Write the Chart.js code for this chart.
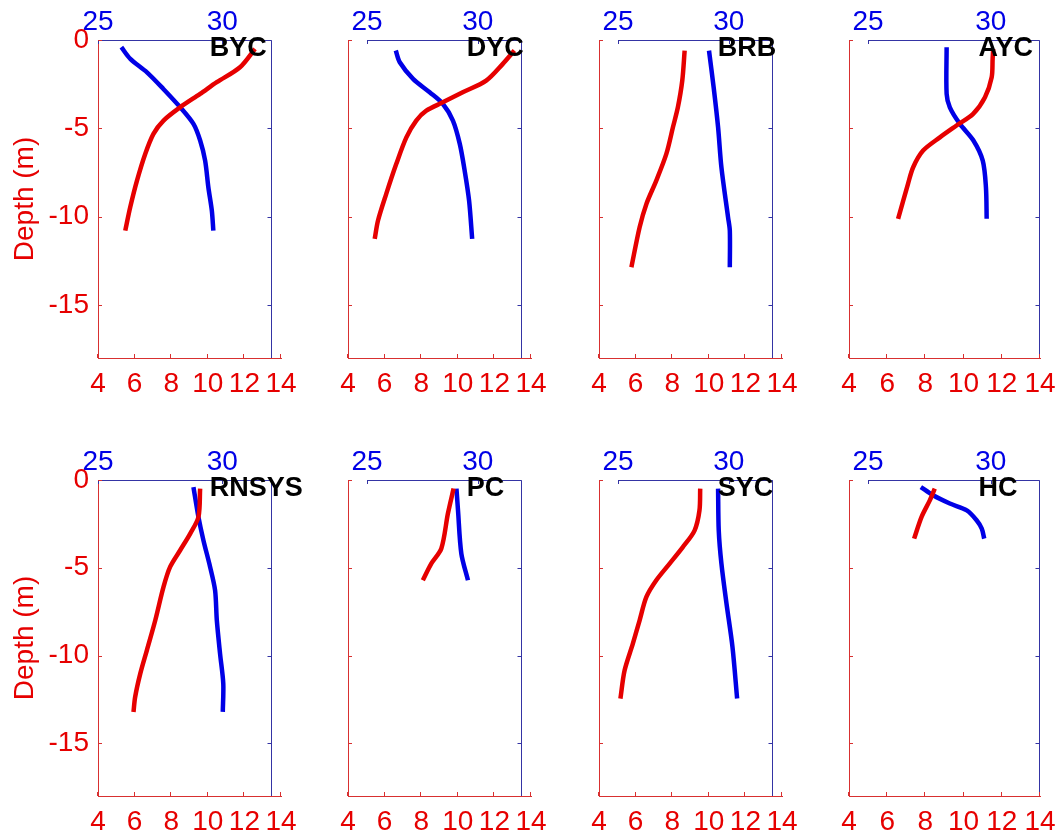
<!DOCTYPE html>
<html>
<head>
<meta charset="utf-8">
<script src="https://cdn.jsdelivr.net/npm/chart.js@4/dist/chart.umd.min.js"></script>
<style>
  body { margin: 0; background: #fff; }
  #wrap { position: relative; width: 1061px; height: 833px; overflow: hidden; background: #fff; }
  #wrap canvas { position: absolute; }
</style>
</head>
<body>
<div id="wrap"></div>
<script>
// station names, in panel order (two rows of four)
const stations = ['BYC', 'DYC', 'BRB', 'AYC', 'RNSYS', 'PC', 'SYC', 'HC'];

// axis ticks
const tempTicks = [4, 6, 8, 10, 12, 14];
const salTicks = [25, 30];
const depthTicks = [0, -5, -10, -15];

// temperature (red, bottom axis) and salinity (blue, top axis) profiles, depth in m
const bycTemp = [12.58, 11.76, 10.49, 9.58, 8.49, 7.58, 7.03, 6.58, 6.13, 5.76, 5.49];
const bycTempDepth = [-0.5, -1.54, -2.39, -3.05, -3.81, -4.56, -5.31, -6.45, -7.96, -9.47, -10.79];
const bycSal = [25.94, 26.3, 26.97, 27.63, 28.31, 28.84, 29.11, 29.31, 29.44, 29.58, 29.64];
const bycSalDepth = [-0.41, -1.07, -1.83, -2.77, -3.81, -4.75, -5.69, -6.83, -8.34, -9.66, -10.79];

const dycTemp = [13.09, 12.46, 11.55, 10.27, 9.18, 8.28, 7.73, 7.19, 6.64, 6.09, 5.64, 5.46];
const dycTempDepth = [-0.6, -1.35, -2.3, -2.96, -3.53, -4.0, -4.56, -5.51, -7.01, -8.71, -10.22, -11.26];
const dycSal = [26.3, 26.48, 27.08, 27.83, 28.43, 28.88, 29.19, 29.41, 29.61, 29.75];
const dycSalDepth = [-0.6, -1.26, -2.2, -2.96, -3.62, -4.56, -5.88, -7.39, -9.09, -11.26];

const brbTemp = [8.68, 8.55, 8.31, 8.04, 7.68, 7.13, 6.59, 6.22, 5.77];
const brbTempDepth = [-0.6, -2.3, -3.81, -4.94, -6.45, -7.96, -9.28, -10.6, -12.86];
const brbSal = [29.11, 29.32, 29.52, 29.67, 29.97, 30.05, 30.05];
const brbSalDepth = [-0.6, -2.68, -4.94, -7.2, -10.03, -10.79, -12.86];

const aycTemp = [11.55, 11.52, 11.47, 11.12, 10.5, 9.63, 8.76, 7.88, 7.36, 7.09, 6.57];
const aycTempDepth = [-0.5, -1.07, -2.11, -3.24, -4.18, -4.84, -5.51, -6.26, -7.2, -8.14, -10.12];
const aycSal = [28.2, 28.2, 28.33, 28.74, 29.29, 29.67, 29.8, 29.83];
const aycSalDepth = [-0.41, -3.05, -3.81, -4.75, -5.69, -6.83, -8.34, -10.12];

const rnsysTemp = [9.58, 9.49, 9.04, 8.49, 7.94, 7.58, 7.13, 6.67, 6.31, 6.03, 5.94];
const rnsysTempDepth = [-0.49, -2.1, -3.05, -4.0, -4.95, -6.09, -7.99, -9.7, -11.03, -12.36, -13.21];
const rnsysSal = [28.84, 29.04, 29.24, 29.51, 29.71, 29.78, 29.91, 30.04, 30.02];
const rnsysSalDepth = [-0.4, -2.1, -3.43, -4.95, -6.28, -7.99, -9.89, -11.6, -13.21];

const pcTemp = [9.77, 9.46, 9.1, 8.55, 8.09];
const pcTempDepth = [-0.49, -1.91, -3.9, -4.76, -5.71];
const pcSal = [29.04, 29.11, 29.26, 29.56];
const pcSalDepth = [-0.49, -1.73, -4.19, -5.71];

const sycTemp = [9.53, 9.49, 9.22, 8.58, 7.86, 7.13, 6.59, 6.22, 5.85, 5.4, 5.17];
const sycTempDepth = [-0.49, -1.73, -2.88, -3.82, -4.76, -5.71, -6.66, -7.99, -9.32, -10.84, -12.45];
const sycSal = [29.52, 29.55, 29.67, 29.9, 30.17, 30.38];
const sycSalDepth = [-0.49, -2.88, -4.76, -7.04, -9.51, -12.45];

const hcTemp = [8.49, 8.23, 7.8, 7.41];
const hcTempDepth = [-0.49, -1.16, -2.1, -3.34];
const hcSal = [27.15, 27.65, 28.33, 29.02, 29.42, 29.63, 29.73];
const hcSalDepth = [-0.4, -0.87, -1.34, -1.73, -2.29, -2.77, -3.34];

const profiles = {
    BYC: [bycTemp, bycTempDepth, bycSal, bycSalDepth],
    DYC: [dycTemp, dycTempDepth, dycSal, dycSalDepth],
    BRB: [brbTemp, brbTempDepth, brbSal, brbSalDepth],
    AYC: [aycTemp, aycTempDepth, aycSal, aycSalDepth],
    RNSYS: [rnsysTemp, rnsysTempDepth, rnsysSal, rnsysSalDepth],
    PC: [pcTemp, pcTempDepth, pcSal, pcSalDepth],
    SYC: [sycTemp, sycTempDepth, sycSal, sycSalDepth],
    HC: [hcTemp, hcTempDepth, hcSal, hcSalDepth]
};

// page layout (pixels): temperature axis ends and salinity axis ends per column
const cols = [
    { tL: 98, tR: 281, sL: 98, sR: 272 },
    { tL: 348, tR: 531, sL: 367, sR: 522 },
    { tL: 599, tR: 782, sL: 618, sR: 773 },
    { tL: 849, tR: 1040, sL: 868, sR: 1040 }
];
const rows = [{ top: 40, bottom: 358 }, { top: 480, bottom: 796 }];
const YW = 90, TH = 45, BH = 50, RP = 45;

const red = '#e60000', blue = '#0000e6';
const redAxis = '#d83030', blueAxis = '#3434a4';
const font = { family: '"Liberation Sans", Arial, sans-serif', size: 28 };

const pts = (xs, ys) => xs.map((v, i) => ({ x: v, y: ys[i] }));

// salinity box edges, inward ticks and station name
const frame = {
    id: 'frame',
    afterDraw(chart) {
        const { ctx, chartArea: a, scales: { x, x2, y } } = chart;
        const s0 = x2.getPixelForValue(25), s1 = Math.round(x2.getPixelForValue(32)) - 0.5;
        const line = (x0, y0, x1, y1) => { ctx.beginPath(); ctx.moveTo(x0, y0); ctx.lineTo(x1, y1); ctx.stroke(); };
        ctx.save();
        ctx.lineWidth = 1;
        ctx.strokeStyle = blueAxis;
        ctx.beginPath();
        ctx.moveTo(s0, a.top + 0.5);
        ctx.lineTo(s1, a.top + 0.5);
        ctx.lineTo(s1, a.bottom);
        ctx.stroke();
        salTicks.forEach(v => { const p = Math.round(x2.getPixelForValue(v)) + 0.5; line(p, a.top, p, a.top + 4); });
        depthTicks.forEach(v => { const p = Math.round(y.getPixelForValue(v)) + 0.5; line(s1, p, s1 - 4, p); });
        ctx.strokeStyle = redAxis;
        tempTicks.forEach(v => { const p = Math.round(x.getPixelForValue(v)) - 0.5; line(p, a.bottom, p, a.bottom - 4); });
        depthTicks.forEach(v => { const p = Math.round(y.getPixelForValue(v)) + 0.5; line(a.left, p, a.left + 4, p); });

        ctx.fillStyle = '#000';
        ctx.font = 'bold 27px "Liberation Sans", Arial, sans-serif';
        ctx.textAlign = 'left';
        ctx.textBaseline = 'middle';
        ctx.fillText(chart.options.plugins.frame.label, x2.getPixelForValue(29.5), y.getPixelForValue(-0.5));
        ctx.restore();
    }
};

const wrap = document.getElementById('wrap');

stations.forEach((name, i) => {
    const col = cols[i % 4], row = rows[Math.floor(i / 4)];
    const first = i % 4 === 0;
    const w = YW + (col.tR - col.tL) + RP, h = TH + (row.bottom - row.top) + BH;
    const canvas = document.createElement('canvas');
    canvas.width = w; canvas.height = h;
    canvas.style.left = (col.tL - YW) + 'px';
    canvas.style.top = (row.top - TH) + 'px';
    canvas.style.width = w + 'px';
    canvas.style.height = h + 'px';
    wrap.appendChild(canvas);

    // salinity axis only covers part of the temperature axis
    const perPx = (32 - 25) / (col.sR - col.sL);
    const s2min = 25 - (col.sL - col.tL) * perPx;
    const s2max = 32 + (col.tR - col.sR) * perPx;

    const [temp, tDepth, sal, sDepth] = profiles[name];

    new Chart(canvas.getContext('2d'), {
        type: 'line',
        data: {
            datasets: [{
                label: 'Temperature',
                data: pts(temp, tDepth),
                xAxisID: 'x',
                yAxisID: 'y',
                borderColor: red,
                borderWidth: 4.5,
                pointRadius: 0,
                tension: 0.3,
                fill: false
            }, {
                label: 'Salinity',
                data: pts(sal, sDepth),
                xAxisID: 'x2',
                yAxisID: 'y',
                borderColor: blue,
                borderWidth: 4.5,
                pointRadius: 0,
                tension: 0.3,
                fill: false
            }]
        },
        options: {
            responsive: false,
            animation: false,
            events: [],
            devicePixelRatio: 1,
            layout: { padding: { left: 0, top: 0, right: RP, bottom: 0 } },
            plugins: {
                legend: { display: false },
                tooltip: { enabled: false },
                frame: { label: name }
            },
            scales: {
                x: {
                    type: 'linear', position: 'bottom', min: 4, max: 14,
                    afterBuildTicks: s => { s.ticks = tempTicks.map(v => ({ value: v })); },
                    afterFit: s => { s.height = BH; },
                    grid: { display: false, drawTicks: false },
                    border: { display: true, color: redAxis, width: 1 },
                    ticks: { color: red, font: font, padding: 9, maxRotation: 0, autoSkip: false }
                },
                x2: {
                    type: 'linear', position: 'top', min: s2min, max: s2max,
                    afterBuildTicks: s => { s.ticks = salTicks.map(v => ({ value: v })); },
                    afterFit: s => { s.height = TH; },
                    grid: { display: false, drawTicks: false },
                    border: { display: false },
                    ticks: { color: blue, font: font, padding: 1, maxRotation: 0, autoSkip: false }
                },
                y: {
                    type: 'linear', position: 'left', min: -18, max: 0,
                    afterBuildTicks: s => { s.ticks = depthTicks.map(v => ({ value: v })); },
                    afterFit: s => { s.width = YW; },
                    grid: { display: false, drawTicks: false },
                    border: { display: true, color: redAxis, width: 1 },
                    ticks: { display: first, color: red, font: font, padding: 9 },
                    title: { display: first, text: 'Depth (m)', color: red, font: font, padding: 0 }
                }
            }
        },
        plugins: [frame]
    });
});
</script>
</body>
</html>
